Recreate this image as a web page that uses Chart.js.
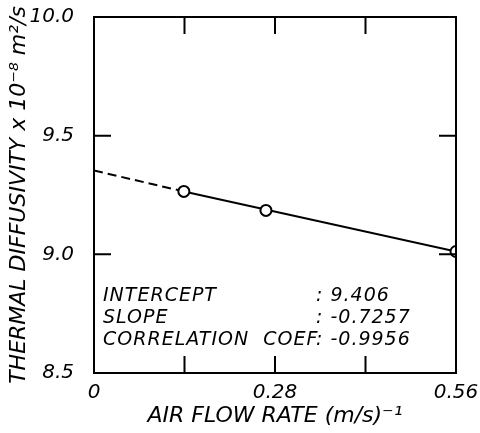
<!DOCTYPE html>
<html>
<head>
<meta charset="utf-8">
<script src="https://cdn.jsdelivr.net/npm/chart.js@4"></script>
<style>
  html, body { margin: 0; padding: 0; background: #fff; }
</style>
</head>
<body>
<canvas id="myChart" width="480" height="433"></canvas>
<script>
'use strict';

// data
const flowRate = [0.139, 0.266, 0.56];
const diffusivity = [9.265, 9.185, 9.012];

// fitted line (dashed part runs back to the axis)
const fitX = [0, 0.139, 0.56];
const fitY = [9.353, 9.265, 9.012];

const xLabelTicks = [0, 0.28, 0.56];
const statNames = ['INTERCEPT', 'SLOPE', 'CORRELATION  COEF'];
const statValues = [': 9.406', ': -0.7257', ': -0.9956'];

const FONT = '"DejaVu Sans", sans-serif';

// frame, inward ticks on all four sides, and the stats text
const framePlugin = {
    id: 'frame',
    afterDraw(chart) {
        const c = chart.ctx;
        const a = chart.chartArea;
        const xs = chart.scales.x;
        const ys = chart.scales.y;
        const len = 17;
        c.save();
        c.strokeStyle = '#000';
        c.lineWidth = 2;
        c.strokeRect(a.left, a.top, a.right - a.left, a.bottom - a.top);
        c.beginPath();
        xs.ticks.forEach(t => {
            const px = xs.getPixelForValue(t.value);
            if (px <= a.left + 1 || px >= a.right - 1) return;
            c.moveTo(px, a.bottom); c.lineTo(px, a.bottom - len);
            c.moveTo(px, a.top); c.lineTo(px, a.top + len);
        });
        ys.ticks.forEach(t => {
            const py = ys.getPixelForValue(t.value);
            if (py <= a.top + 1 || py >= a.bottom - 1) return;
            c.moveTo(a.left, py); c.lineTo(a.left + len, py);
            c.moveTo(a.right, py); c.lineTo(a.right - len, py);
        });
        c.stroke();

        c.fillStyle = '#000';
        c.font = 'italic 19px ' + FONT;
        c.letterSpacing = '1px';
        c.textBaseline = 'middle';
        c.textAlign = 'left';
        statNames.forEach((n, i) => {
            const y = a.top + 279 + i * 22;
            c.fillText(n, a.left + 9, y);
            c.fillText(statValues[i], a.left + 222, y);
        });
        c.restore();
    }
};

const ctx = document.getElementById('myChart').getContext('2d');

const myChart = new Chart(ctx, {
    type: 'scatter',
    data: {
        datasets: [{
            type: 'line',
            data: fitX.map((x, i) => ({ x: x, y: fitY[i] })),
            borderColor: '#000',
            borderWidth: 2,
            pointRadius: 0,
            fill: false,
            segment: {
                borderDash: s => s.p0DataIndex === 0 ? [9, 5] : undefined
            },
            order: 2
        }, {
            data: flowRate.map((x, i) => ({ x: x, y: diffusivity[i] })),
            pointRadius: 5.5,
            pointBorderWidth: 2,
            pointBackgroundColor: '#fff',
            pointBorderColor: '#000',
            order: 1
        }]
    },
    options: {
        responsive: false,
        animation: false,
        layout: { padding: { top: 17, right: 24, left: 0, bottom: 0 } },
        plugins: {
            legend: { display: false },
            tooltip: { enabled: false }
        },
        scales: {
            x: {
                type: 'linear',
                min: 0,
                max: 0.56,
                afterFit: s => { s.height = 60; },
                grid: { display: false },
                border: { display: false },
                ticks: {
                    stepSize: 0.14,
                    color: '#000',
                    padding: 0,
                    maxRotation: 0,
                    font: { family: FONT, style: 'italic', size: 20 },
                    callback: v => xLabelTicks.some(t => Math.abs(t - v) < 1e-6) ? String(+v.toFixed(2)) : ''
                },
                title: {
                    display: true,
                    text: 'AIR FLOW RATE (m/s)\u207B\u00B9',
                    color: '#000',
                    font: { family: FONT, style: 'italic', size: 22 },
                    padding: { top: 0, bottom: 4 }
                }
            },
            y: {
                min: 8.5,
                max: 10.0,
                afterFit: s => {
                    s.width = 94;
                    s.paddingTop = 11;
                    s.paddingBottom = 11;
                },
                grid: { display: false },
                border: { display: false },
                ticks: {
                    stepSize: 0.5,
                    color: '#000',
                    padding: 12,
                    font: { family: FONT, style: 'italic', size: 20 },
                    callback: v => v.toFixed(1)
                },
                title: {
                    display: true,
                    text: 'THERMAL DIFFUSIVITY x 10\u207B\u2078 m\u00B2/s',
                    color: '#000',
                    font: { family: FONT, style: 'italic', size: 22 },
                    padding: { top: 6, bottom: 0 }
                }
            }
        }
    },
    plugins: [framePlugin]
});
</script>
</body>
</html>
